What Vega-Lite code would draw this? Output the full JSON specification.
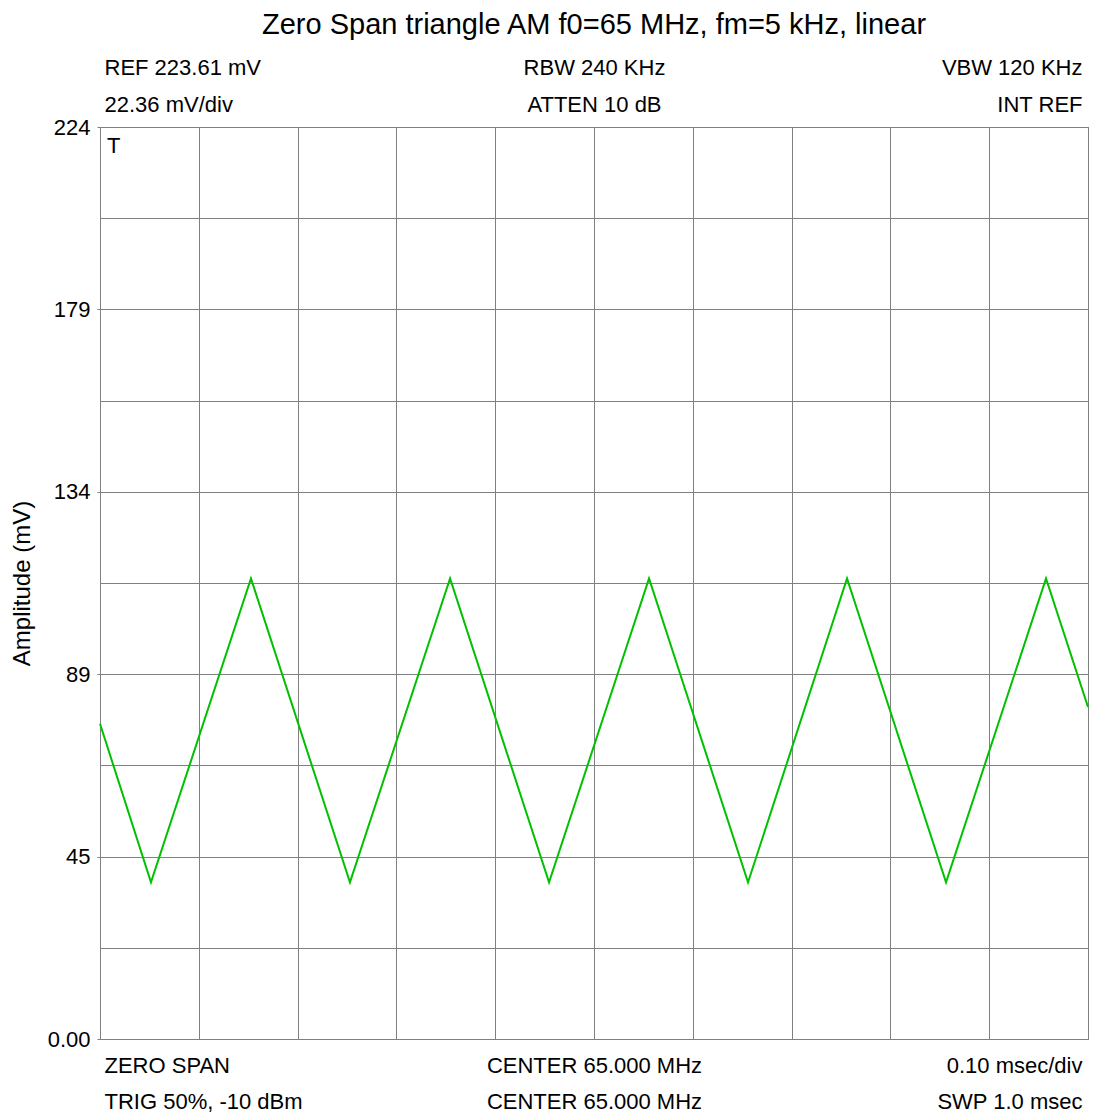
{
  "$schema": "https://vega.github.io/schema/vega-lite/v6.json",
  "width": 988,
  "height": 912,
  "autosize": {"type": "none"},
  "padding": {"left": 100, "top": 127, "right": 6, "bottom": 79},
  "background": "white",
  "title": {
    "text": "Zero Span triangle AM f0=65 MHz, fm=5 kHz, linear",
    "font": "Liberation Sans",
    "fontSize": 29,
    "fontWeight": "normal",
    "color": "black",
    "anchor": "middle",
    "frame": "group",
    "offset": 16
  },
  "config": {
    "view": {"stroke": "#808080", "strokeWidth": 1},
    "font": "Liberation Sans"
  },
  "layer": [
    {
      "data": {
        "values": [
          {"time": 0.0, "amplitude": 77.3},
          {"time": 0.0516, "amplitude": 38.4},
          {"time": 0.1528, "amplitude": 112.9},
          {"time": 0.253, "amplitude": 38.4},
          {"time": 0.3543, "amplitude": 112.9},
          {"time": 0.4545, "amplitude": 38.4},
          {"time": 0.5557, "amplitude": 112.9},
          {"time": 0.6559, "amplitude": 38.4},
          {"time": 0.7561, "amplitude": 112.9},
          {"time": 0.8563, "amplitude": 38.4},
          {"time": 0.9575, "amplitude": 112.9},
          {"time": 1.0, "amplitude": 81.4}
        ]
      },
      "mark": {"type": "line", "color": "#00c000", "strokeWidth": 2},
      "encoding": {
        "x": {
          "field": "time",
          "type": "quantitative",
          "scale": {"domain": [0, 1], "nice": false, "zero": false},
          "axis": {
            "orient": "bottom",
            "values": [0, 0.1, 0.2, 0.3, 0.4, 0.5, 0.6, 0.7, 0.8, 0.9, 1],
            "grid": true,
            "gridColor": "#808080",
            "gridOpacity": 1,
            "gridWidth": 1,
            "ticks": false,
            "domain": false,
            "title": null,
            "labelExpr": "datum.value == 0 ? ['ZERO SPAN', 'TRIG 50%, -10 dBm'] : abs(datum.value - 0.5) < 0.001 ? ['CENTER 65.000 MHz', 'CENTER 65.000 MHz'] : datum.value == 1 ? ['0.10 msec/div', 'SWP 1.0 msec'] : ''",
            "labelFont": "Liberation Sans",
            "labelFontSize": 22,
            "labelColor": "black",
            "labelOverlap": false,
            "labelFlush": false,
            "labelBound": false,
            "labelLimit": 0,
            "labelBaseline": "top",
            "labelPadding": 16,
            "labelLineHeight": 36,
            "labelAlign": {
              "condition": [
                {"test": "datum.value < 0.05", "value": "left"},
                {"test": "datum.value > 0.95", "value": "right"}
              ],
              "value": "center"
            },
            "labelOffset": {
              "condition": [
                {"test": "datum.value < 0.05", "value": 4},
                {"test": "datum.value > 0.95", "value": -6}
              ],
              "value": 0
            }
          }
        },
        "y": {
          "field": "amplitude",
          "type": "quantitative",
          "scale": {"domain": [0, 223.61], "nice": false, "zero": true},
          "axis": {
            "values": [0, 22.361, 44.722, 67.083, 89.444, 111.805, 134.166, 156.527, 178.888, 201.249, 223.61],
            "grid": true,
            "gridColor": "#808080",
            "gridOpacity": 1,
            "gridWidth": 1,
            "domain": false,
            "ticks": true,
            "tickSize": 3,
            "tickColor": "#808080",
            "tickOpacity": {
              "condition": {"test": "round(datum.value / 22.361) % 2 == 1", "value": 0},
              "value": 1
            },
            "labelExpr": "round(datum.value / 22.361) % 2 == 1 ? '' : (datum.value == 0 ? '0.00' : format(datum.value, '.0f'))",
            "labelFont": "Liberation Sans",
            "labelFontSize": 22,
            "labelColor": "black",
            "labelOverlap": false,
            "labelFlush": false,
            "labelBound": false,
            "labelPadding": 7,
            "title": "Amplitude (mV)",
            "titleFont": "Liberation Sans",
            "titleFontSize": 24,
            "titleFontWeight": "normal",
            "titleColor": "black",
            "titlePadding": 13
          }
        }
      }
    },
    {
      "data": {"values": [{"label": "T"}]},
      "mark": {"type": "text", "align": "left", "baseline": "top", "dx": 7, "dy": 9, "fontSize": 22, "font": "Liberation Sans", "color": "black"},
      "encoding": {
        "text": {"field": "label", "type": "nominal"},
        "x": {
          "datum": 0,
          "type": "quantitative",
          "axis": {
            "orient": "top",
            "values": [0, 0.5, 1],
            "grid": false,
            "ticks": false,
            "domain": false,
            "title": null,
            "labelExpr": "datum.value == 0 ? ['REF 223.61 mV', '22.36 mV/div'] : abs(datum.value - 0.5) < 0.001 ? ['RBW 240 KHz', 'ATTEN 10 dB'] : ['VBW 120 KHz', 'INT REF']",
            "labelFont": "Liberation Sans",
            "labelFontSize": 22,
            "labelColor": "black",
            "labelOverlap": false,
            "labelFlush": false,
            "labelBound": false,
            "labelLimit": 0,
            "labelBaseline": "bottom",
            "labelPadding": 48,
            "labelLineHeight": 37,
            "labelAlign": {
              "condition": [
                {"test": "datum.value < 0.05", "value": "left"},
                {"test": "datum.value > 0.95", "value": "right"}
              ],
              "value": "center"
            },
            "labelOffset": {
              "condition": [
                {"test": "datum.value < 0.05", "value": 4},
                {"test": "datum.value > 0.95", "value": -6}
              ],
              "value": 0
            }
          }
        },
        "y": {"datum": 223.61, "type": "quantitative", "axis": null}
      }
    }
  ],
  "resolve": {"axis": {"x": "independent", "y": "independent"}}
}
